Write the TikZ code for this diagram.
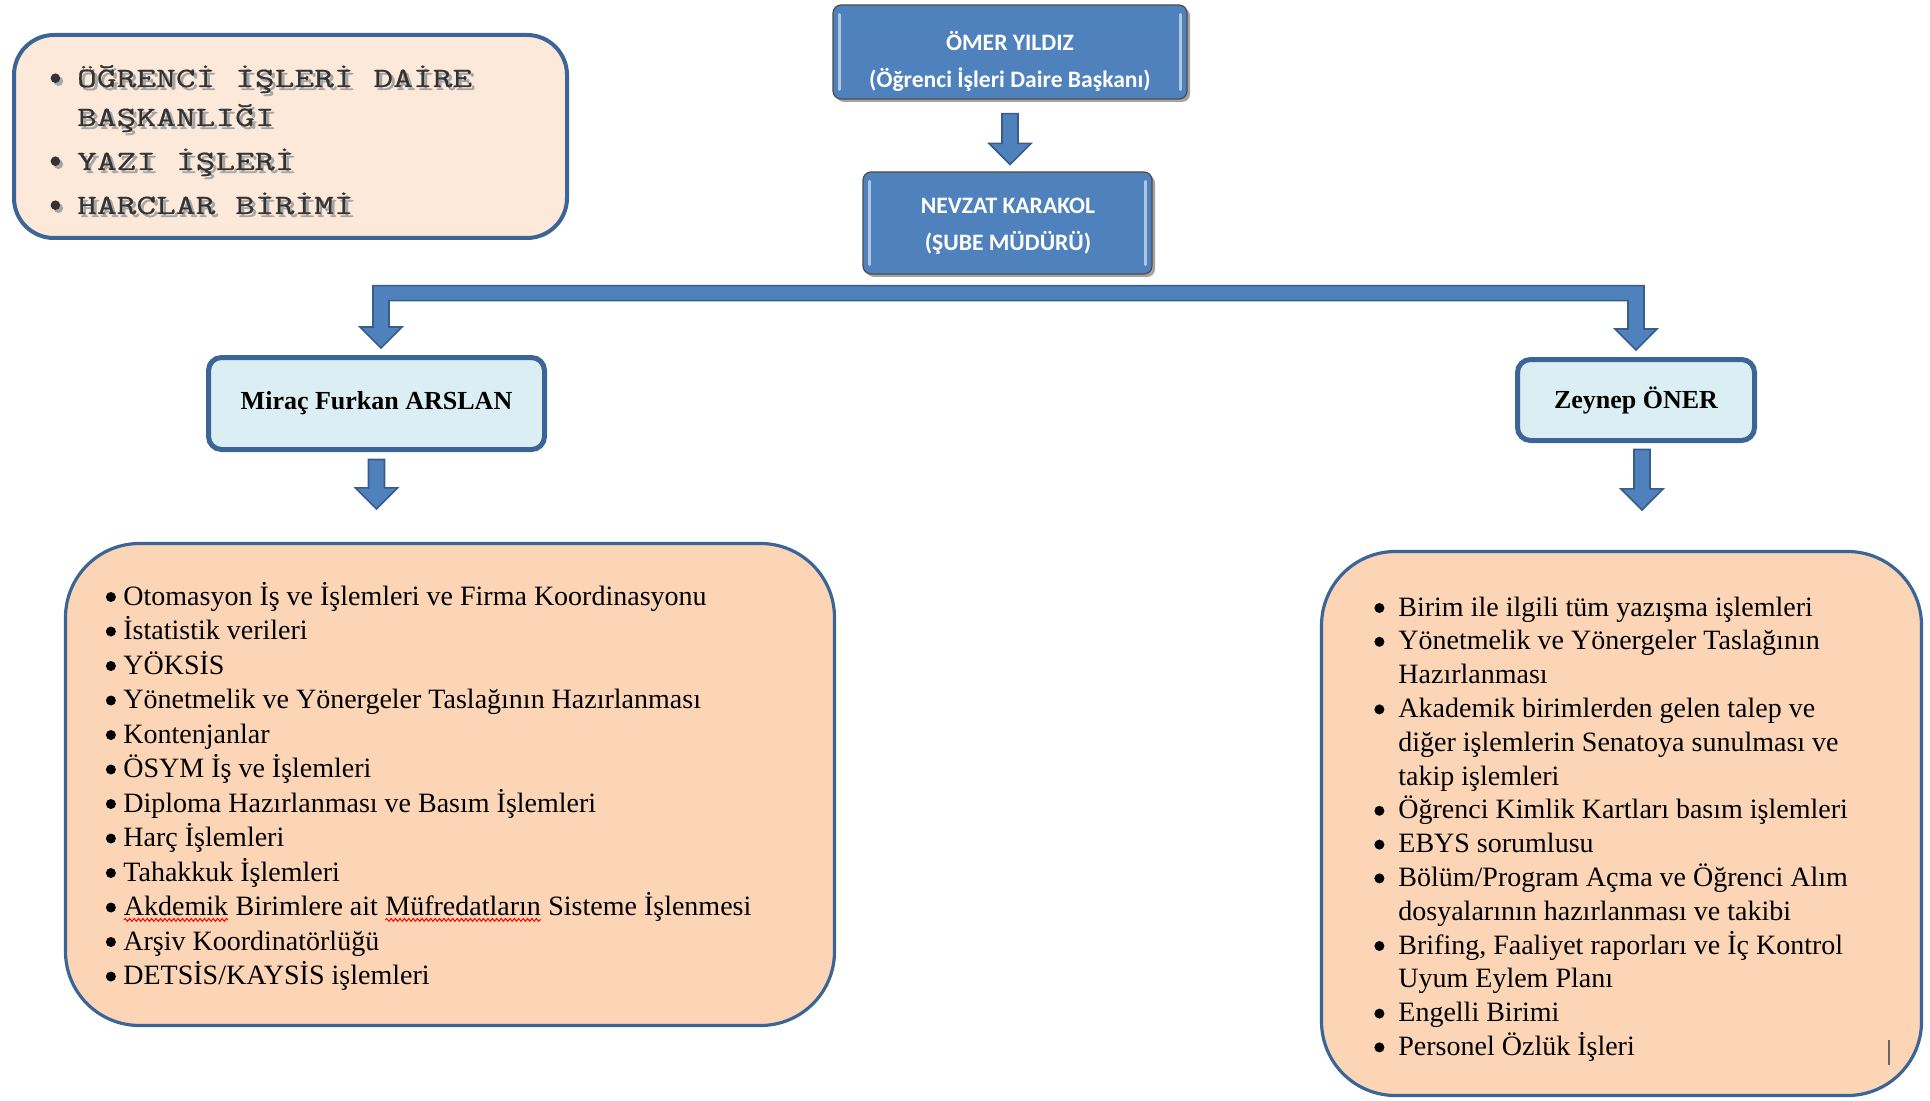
\documentclass[tikz,border=0pt]{standalone}
\usepackage{fontspec}
\setmainfont{Liberation Serif}
\newfontfamily\calib{Carlito}
\newfontfamily\monof[FakeStretch=1.37,FakeBold=0.6]{Latin Modern Mono}
\usetikzlibrary{calc,shadows,decorations.pathmorphing}
\definecolor{arrowblue}{HTML}{4F81BD}
\definecolor{arrowedge}{HTML}{385D8A}
\definecolor{boxblue}{HTML}{4F81BD}
\definecolor{peach}{HTML}{FBD5B5}
\definecolor{lightpeach}{HTML}{FDE9D9}
\definecolor{paleblue}{HTML}{DBEEF4}
\definecolor{frameblue}{HTML}{3C6597}
\tikzset{
  blockarrow/.style={fill=arrowblue, draw=arrowedge, line width=0.8pt, line join=miter},
  bluebox/.style={rectangle, rounded corners=4pt, fill=boxblue, draw=black!70, line width=0.6pt,
     drop shadow={shadow xshift=1.5pt, shadow yshift=-1.5pt, fill=black!60, opacity=0.6}},
  hilite/.style={draw=white!55!boxblue, line width=1.4pt, line cap=round},
  bluetext/.style={text=white, font=\calib\bfseries\fontsize{11.8}{18.5}\selectfont, align=center, inner sep=0pt},
  namebox/.style={rectangle, rounded corners=6.5pt, fill=paleblue, draw=frameblue, line width=2.5pt,
     font=\fontsize{13}{15}\selectfont\bfseries, inner sep=0pt},
  listbox/.style={rectangle, rounded corners=37pt, fill=peach, draw=frameblue, line width=1.6pt},
  headbox/.style={rectangle, rounded corners=20pt, fill=lightpeach, draw=frameblue, line width=2pt},
  monotext/.style={font=\monof\fontsize{14}{19.5}\selectfont, inner sep=0pt, anchor=base west},
  listtext/.style={inner sep=0pt, anchor=base west}
}
% bullet dot: #1 radius, #2 height of centre above baseline
\newcommand{\bul}[2]{\tikz[baseline=0pt]{\fill (#1,#2) circle (#1);}}
\newcommand{\blockdown}[2]{%
  \path[blockarrow] let \p1=(#1), \p2=(#2) in
   (\x1-4pt,\y1) -- (\x1+4pt,\y1) -- (\x1+4pt,\y2+10.5pt) -- (\x1+10.5pt,\y2+10.5pt)
   -- (\x1,\y2) -- (\x1-10.5pt,\y2+10.5pt) -- (\x1-4pt,\y2+10.5pt) -- cycle;}
\newcommand{\spellerr}[1]{\tikz[baseline=(sw.base)]{\node[inner sep=0pt,outer sep=0pt,anchor=base] (sw) {#1};
  \draw[red,line width=0.5pt,decorate,decoration={snake,amplitude=0.7pt,segment length=2.2pt}]
   ([yshift=-2.2pt]sw.base west) -- ([yshift=-2.2pt]sw.base east);}}
\newcommand{\unitlist}{%
\begin{tabular}[t]{@{}l@{\hspace{8.45pt}}l@{}}
\bul{2.4pt}{4.4pt}&ÖĞRENCİ İŞLERİ DAİRE\\
&BAŞKANLIĞI\\[2.5pt]
\bul{2.4pt}{4.4pt}&YAZI İŞLERİ\\[2.5pt]
\bul{2.4pt}{4.4pt}&HARCLAR BİRİMİ
\end{tabular}}
\begin{document}
\begin{tikzpicture}[x=0.5pt,y=-0.5pt]
\useasboundingbox (0,0) rectangle (1930,1101);

% top-left unit box
\node[headbox, minimum width=276.5pt, minimum height=101.5pt] (units) at (290.5,136.5) {};
\node[monotext, text=black!35] (unitsshadow) at (53.2,90) {\unitlist};
\node[monotext, text=black!80] (unitslist) at (50.2,87) {\unitlist};

% blue boxes
\node[bluebox, minimum width=177pt, minimum height=47pt] (omer) at (1010,52) {};
\draw[hilite] ([xshift=3.5pt,yshift=-5pt]omer.north west) -- ([xshift=3.5pt,yshift=5pt]omer.south west);
\draw[hilite] ([xshift=-3.5pt,yshift=-5pt]omer.north east) -- ([xshift=-3.5pt,yshift=5pt]omer.south east);
\node[bluetext] (omertext) at (1010,61) {ÖMER YILDIZ\\(Öğrenci İşleri Daire Başkanı)};

\node[bluebox, minimum width=144.5pt, minimum height=51pt] (nevzat) at (1007.5,223) {};
\draw[hilite] ([xshift=3.5pt,yshift=-5pt]nevzat.north west) -- ([xshift=3.5pt,yshift=5pt]nevzat.south west);
\draw[hilite] ([xshift=-3.5pt,yshift=-5pt]nevzat.north east) -- ([xshift=-3.5pt,yshift=5pt]nevzat.south east);
\node[bluetext] (nevzattext) at (1008,226.5) {NEVZAT KARAKOL\\(ŞUBE MÜDÜRÜ)};

% name boxes
\node[namebox, minimum width=168pt, minimum height=46pt] (mirac) at (376.5,403.5) {Miraç Furkan ARSLAN};
\node[namebox, minimum width=118.5pt, minimum height=40.5pt] (zeynep) at (1636,400) {Zeynep ÖNER};

% list boxes
\node[listbox, minimum width=384.5pt, minimum height=241pt] (leftlist) at (450,784.5) {};
\node[listbox, minimum width=300pt, minimum height=272pt] (rightlist) at (1621.5,823.5) {};

\node[listtext, font=\fontsize{14}{17.25}\selectfont] (lefttext) at (105.5,605) {%
\begin{tabular}[t]{@{}l@{\hspace{3.75pt}}l@{}}
\bul{2.5pt}{4pt}&Otomasyon İş ve İşlemleri ve Firma Koordinasyonu\\
\bul{2.5pt}{4pt}&İstatistik verileri\\
\bul{2.5pt}{4pt}&YÖKSİS\\
\bul{2.5pt}{4pt}&Yönetmelik ve Yönergeler Taslağının Hazırlanması\\
\bul{2.5pt}{4pt}&Kontenjanlar\\
\bul{2.5pt}{4pt}&ÖSYM İş ve İşlemleri\\
\bul{2.5pt}{4pt}&Diploma Hazırlanması ve Basım İşlemleri\\
\bul{2.5pt}{4pt}&Harç İşlemleri\\
\bul{2.5pt}{4pt}&Tahakkuk İşlemleri\\
\bul{2.5pt}{4pt}&\spellerr{Akdemik} Birimlere ait \spellerr{Müfredatların} Sisteme İşlenmesi\\
\bul{2.5pt}{4pt}&Arşiv Koordinatörlüğü\\
\bul{2.5pt}{4pt}&DETSİS/KAYSİS işlemleri
\end{tabular}};

\node[listtext, font=\fontsize{14}{16.9}\selectfont] (righttext) at (1374,616) {%
\begin{tabular}[t]{@{}l@{\hspace{7pt}}l@{}}
\bul{2.5pt}{4pt}&Birim ile ilgili tüm yazışma işlemleri\\
\bul{2.5pt}{4pt}&Yönetmelik ve Yönergeler Taslağının\\
&Hazırlanması\\
\bul{2.5pt}{4pt}&Akademik birimlerden gelen talep ve\\
&diğer işlemlerin Senatoya sunulması ve\\
&takip işlemleri\\
\bul{2.5pt}{4pt}&Öğrenci Kimlik Kartları basım işlemleri\\
\bul{2.5pt}{4pt}&EBYS sorumlusu\\
\bul{2.5pt}{4pt}&Bölüm/Program Açma ve Öğrenci Alım\\
&dosyalarının hazırlanması ve takibi\\
\bul{2.5pt}{4pt}&Brifing, Faaliyet raporları ve İç Kontrol\\
&Uyum Eylem Planı\\
\bul{2.5pt}{4pt}&Engelli Birimi\\
\bul{2.5pt}{4pt}&Personel Özlük İşleri
\end{tabular}};

% arrows
\blockdown{[yshift=-7pt]omer.south}{[yshift=3.5pt]nevzat.north}
\path[blockarrow] let \p1=([xshift=2.25pt]mirac.north), \p2=(zeynep.north), \p3=(nevzat.south) in
  (\x1-4pt,\y3-5.5pt) -- (\x2+4pt,\y3-5.5pt) -- (\x2+4pt,\y2+14pt) -- (\x2+10.5pt,\y2+14pt)
  -- (\x2,\y2+3.5pt) -- (\x2-10.5pt,\y2+14pt) -- (\x2-4pt,\y2+14pt) -- (\x2-4pt,\y3-13pt)
  -- (\x1+4pt,\y3-13pt) -- (\x1+4pt,\y1+14pt) -- (\x1+10.5pt,\y1+14pt) -- (\x1,\y1+3.5pt)
  -- (\x1-10.5pt,\y1+14pt) -- (\x1-4pt,\y1+14pt) -- cycle;
\blockdown{[yshift=-3.75pt]mirac.south}{[yshift=16.5pt]leftlist.north}
\blockdown{[xshift=3pt,yshift=-3.25pt]zeynep.south}{[yshift=20pt]rightlist.north}

% text cursor mark
\draw[black!60, line width=0.6pt] (1889,1040) -- (1889,1065);
\end{tikzpicture}
\end{document}
